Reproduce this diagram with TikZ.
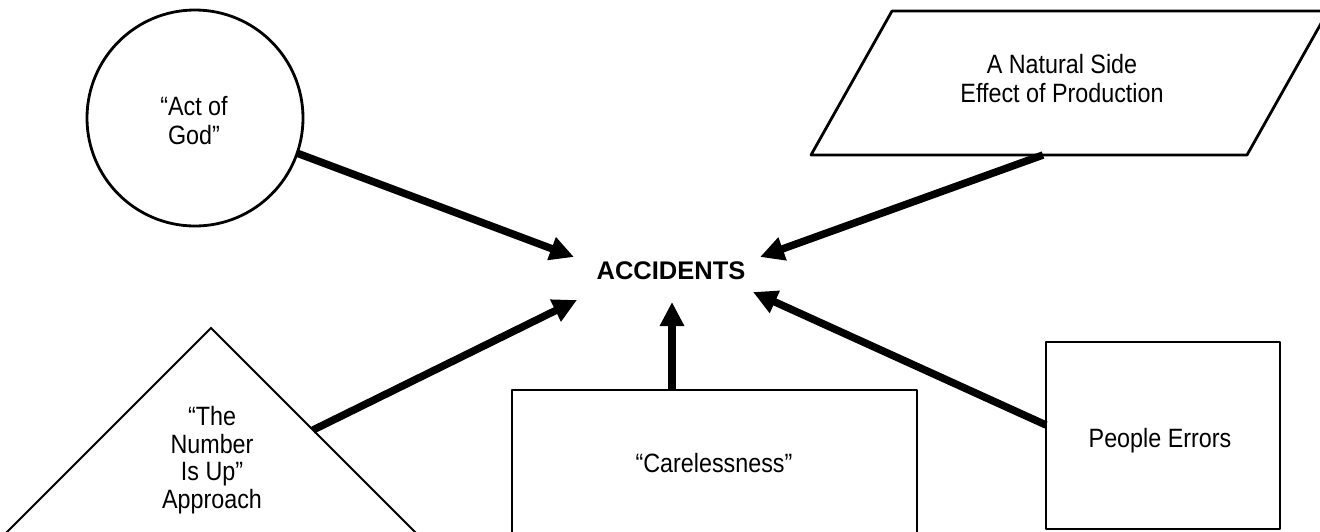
\documentclass[tikz,border=0pt]{standalone}
\usepackage{fontspec}
\setmainfont{Liberation Sans}
\newfontfamily\condfont[FakeStretch=0.88, Ligatures=TeX]{Liberation Sans}
\usetikzlibrary{arrows.meta}
\begin{document}
\begin{tikzpicture}[x=1pt, y=-1pt,
  outline/.style={draw, line width=2.8pt, line join=round, inner sep=0pt, outer sep=0pt},
  thin outline/.style={draw, line width=2pt, line join=miter},
  cause/.style={font=\condfont\fontsize{26.5}{29}\selectfont, align=center, inner sep=0pt},
  feed/.style={line width=7.5pt, -{Triangle[length=24pt, width=23pt]}},
]
\useasboundingbox (0,0) rectangle (1320,531);
\clip (0,0) rectangle (1320,531);

% central effect
\node[font=\bfseries\fontsize{25.5}{30}\selectfont, inner sep=0pt] (acc) at (671,270.5) {ACCIDENTS};
\coordinate (tipGod)   at (574,257);
\coordinate (tipProd)  at (760,257);
\coordinate (tipNum)   at (577,300);
\coordinate (tipCare)  at (672,302);
\coordinate (tipPeople) at (753,292);

% "Act of God" circle
\node[outline, circle, minimum size=216pt] (god) at (195,118) {};
\node[cause, anchor=north] (godtxt) at (194,96) {“Act of\\God”};

% production parallelogram
\draw[outline] (892,11) -- (1328,11) -- (1247,155) -- (811,155) -- cycle;
\coordinate (prodout) at (1043,155);
\node[cause, anchor=north] (prodtxt) at (1062,54) {A Natural Side\\Effect of Production};

% "number is up" triangle
\draw[thin outline] (-8,547) -- (211,328) -- (430,547);
\coordinate (numout) at (313,430);
\node[cause, anchor=north, font=\condfont\fontsize{26.5}{27.7}\selectfont] (numtxt) at (212,406)
  {“The\\Number\\Is Up”\\Approach};

% carelessness box
\node[outline, minimum width=405pt, minimum height=180pt, anchor=north west] (carebox) at (512,390) {};
\node[cause, anchor=base] (caretxt) at (714,472) {“Carelessness”};

% people errors box
\node[outline, minimum width=234pt, minimum height=187pt, anchor=north west] (peoplebox) at (1046,342) {};
\node[cause, anchor=base] (peopletxt) at (1160,447) {People Errors};
\coordinate (peopleout) at (1046,425);

% connectors into the effect
\draw[feed] (god.-19) -- (tipGod);
\draw[feed] (prodout) -- (tipProd);
\draw[feed] (numout) -- (tipNum);
\draw[feed] (carebox.north -| tipCare) -- (tipCare);
\draw[feed] (peopleout) -- (tipPeople);
\end{tikzpicture}
\end{document}
